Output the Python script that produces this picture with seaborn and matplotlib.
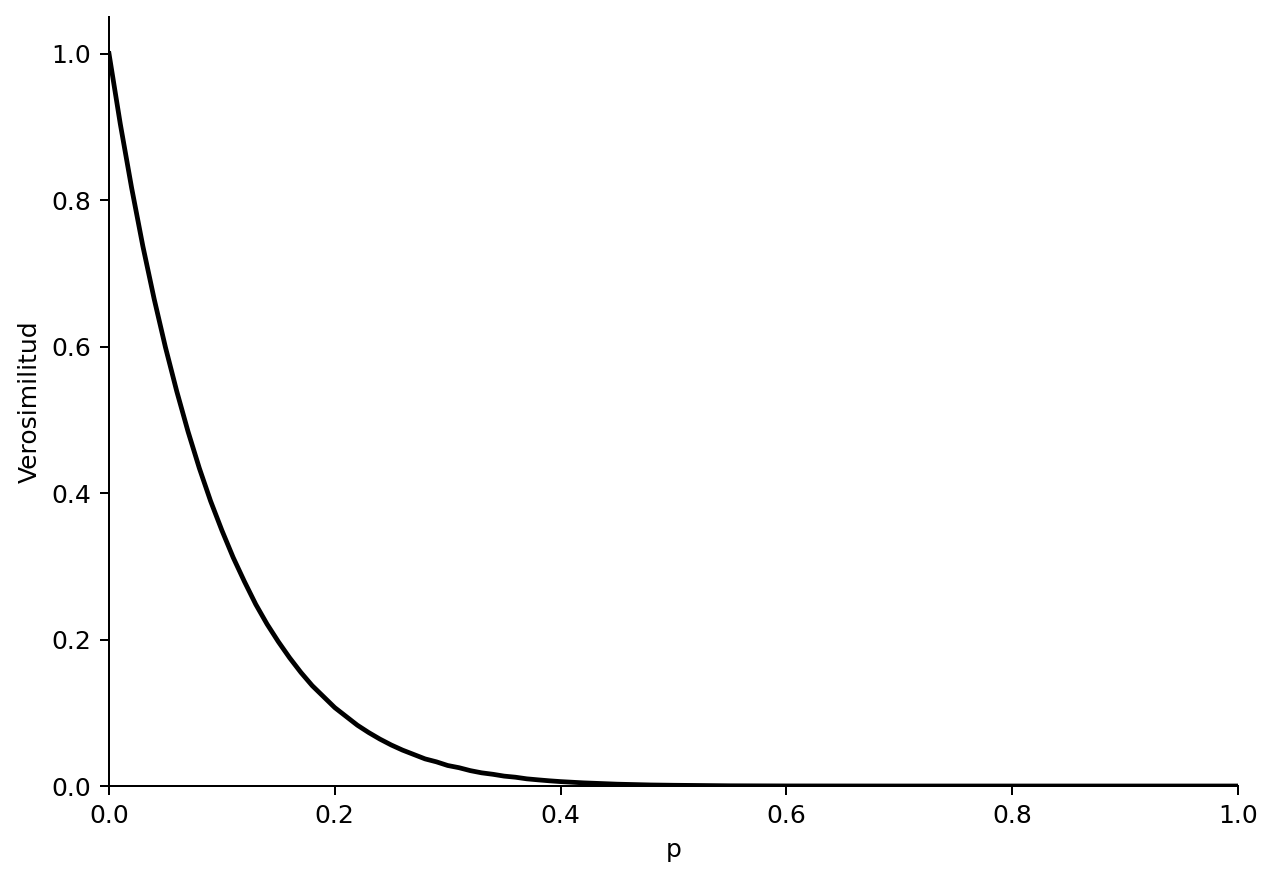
import numpy as np
import pandas as pd
import matplotlib
matplotlib.use('Agg')
import matplotlib.pyplot as plt
import seaborn as sns

# valores
p = [0.0, 0.01, 0.02, 0.03, 0.04, 0.05, 0.06, 0.07, 0.08, 0.09, 0.10,
     0.11, 0.12, 0.13, 0.14, 0.15, 0.16, 0.17, 0.18, 0.19, 0.20,
     0.21, 0.22, 0.23, 0.24, 0.25, 0.26, 0.27, 0.28, 0.29, 0.30,
     0.31, 0.32, 0.33, 0.34, 0.35, 0.36, 0.37, 0.38, 0.39, 0.40,
     0.42, 0.45, 0.48, 0.50, 0.55, 0.60, 0.70, 0.80, 0.90, 1.0]
verosimilitud = [1.0, 0.904, 0.817, 0.737, 0.665, 0.599, 0.539, 0.484, 0.434, 0.389, 0.349,
                 0.312, 0.279, 0.248, 0.221, 0.197, 0.175, 0.155, 0.137, 0.122, 0.107,
                 0.095, 0.083, 0.073, 0.064, 0.056, 0.049, 0.043, 0.037, 0.033, 0.028,
                 0.025, 0.021, 0.018, 0.016, 0.0135, 0.012, 0.0098, 0.0084, 0.0071, 0.006,
                 0.0043, 0.0025, 0.0014, 0.001, 0.0003, 0.0001, 0.0, 0.0, 0.0, 0.0]

df = pd.DataFrame({'p': p, 'Verosimilitud': verosimilitud})

fig, ax = plt.subplots(figsize=(1277 / 180, 879 / 180), dpi=180)
sns.lineplot(data=df, x='p', y='Verosimilitud', color='black', linewidth=1.9, ax=ax)
ax.set_xlim(0, 1)
ax.set_ylim(0, 1.05)
sns.despine(ax=ax)
fig.subplots_adjust(left=109 / 1277, right=1238 / 1277, top=1 - 17 / 879, bottom=1 - 786 / 879)
fig.savefig('out.png', dpi=180)
